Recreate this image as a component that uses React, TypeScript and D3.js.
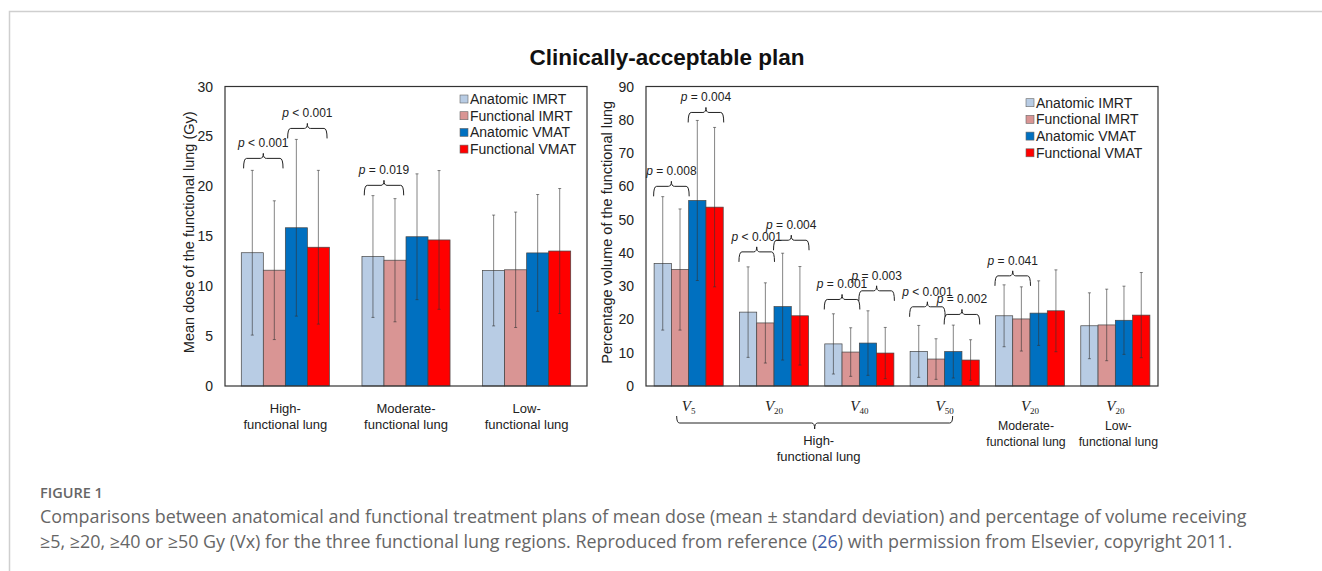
import React from 'react';
import * as d3 from 'd3';

// series + colours
const series = ['Anatomic IMRT', 'Functional IMRT', 'Anatomic VMAT', 'Functional VMAT'];
const seriesColors = ['#b8cce4', '#d99594', '#0070c0', '#ff0000'];

// left panel: mean dose (Gy)
const doseGroupLabels = [['High-', 'functional lung'], ['Moderate-', 'functional lung'], ['Low-', 'functional lung']];
const doseMeans = [
  [13.35, 11.6, 15.85, 13.9],
  [12.97, 12.6, 14.95, 14.63],
  [11.57, 11.64, 13.33, 13.52],
];
const doseSD = [
  [8.25, 6.95, 8.85, 7.7],
  [6.1, 6.17, 6.3, 6.95],
  [5.55, 5.78, 5.85, 6.26],
];
const doseTicks = [0, 5, 10, 15, 20, 25, 30];
const doseBrackets = [
  { group: 0, from: 0, to: 1, y: 22.8, label: '< 0.001' },
  { group: 0, from: 2, to: 3, y: 25.8, label: '< 0.001' },
  { group: 1, from: 0, to: 1, y: 20.1, label: '= 0.019' },
];

// right panel: percentage volume
const volumeSubs = ['5', '20', '40', '50', '20', '20'];
const volumeRegionLabels = [['Moderate-', 'functional lung'], ['Low-', 'functional lung']];
const volumeMeans = [
  [36.85, 35.0, 55.75, 53.75],
  [22.2, 18.95, 23.85, 21.1],
  [12.65, 10.2, 12.9, 9.9],
  [10.4, 8.1, 10.35, 7.8],
  [21.1, 20.15, 21.9, 22.6],
  [18.1, 18.35, 19.75, 21.3],
];
const volumeSD = [
  [20.05, 18.2, 24.05, 23.95],
  [13.6, 12.05, 16.05, 14.8],
  [9.05, 7.3, 9.7, 7.7],
  [7.8, 6.1, 7.95, 6.1],
  [9.3, 9.65, 9.7, 12.3],
  [9.9, 10.75, 10.25, 12.8],
];
const volumeTicks = [0, 10, 20, 30, 40, 50, 60, 70, 80, 90];
const volumeBrackets = [
  { group: 0, from: 0, to: 1, y: 60.0, label: '= 0.008' },
  { group: 0, from: 2, to: 3, y: 82.2, label: '= 0.004' },
  { group: 1, from: 0, to: 1, y: 40.3, label: '< 0.001' },
  { group: 1, from: 2, to: 3, y: 43.8, label: '= 0.004' },
  { group: 2, from: 0, to: 1, y: 26.0, label: '= 0.001' },
  { group: 2, from: 2, to: 3, y: 28.6, label: '= 0.003' },
  { group: 3, from: 0, to: 1, y: 23.8, label: '< 0.001' },
  { group: 3, from: 2, to: 3, y: 21.5, label: '= 0.002' },
  { group: 4, from: 0, to: 1, y: 33.1, label: '= 0.041' },
];

const SANS = '"Liberation Sans", Arial, sans-serif';
const SERIF = '"Liberation Serif", "Times New Roman", serif';
const CAPTION = '"Open Sans", "Noto Sans", sans-serif';

type Bracket = { group: number; from: number; to: number; y: number; label: string };

function bracePath(x1: number, x2: number, y: number, drop: number, tick: number) {
  const xm = (x1 + x2) / 2;
  const r = 3;
  const s = Math.sign(drop);
  return `M${x1},${y + drop} Q${x1},${y} ${x1 + r},${y} L${xm - r},${y} Q${xm},${y} ${xm},${y - tick * s}` +
    ` Q${xm},${y} ${xm + r},${y} L${x2 - r},${y} Q${x2},${y} ${x2},${y + drop}`;
}

function Panel(props: {
  left: number; right: number; top: number; bottom: number;
  yMax: number; ticks: number[]; means: number[][]; sds: number[][];
  padding: number; brackets: Bracket[]; inset: number;
  yLabel: string; yLabelX: number; legendX: number; legendY: number;
  children?: (x: d3.ScaleBand<number>) => React.ReactNode;
}) {
  const { left, right, top, bottom, yMax, ticks, means, sds, padding, brackets, inset } = props;
  const x = d3.scaleBand<number>().domain(d3.range(means.length)).range([left, right])
    .paddingInner(padding).paddingOuter(padding / 2);
  const xi = d3.scaleBand<number>().domain(d3.range(series.length)).range([0, x.bandwidth()]);
  const y = d3.scaleLinear().domain([0, yMax]).range([bottom, top]);
  const bw = xi.bandwidth();
  const midY = (top + bottom) / 2;

  return (
    <g>
      {ticks.map(t => (
        <text key={t} x={left - 12} y={y(t) + 5} textAnchor="end" fontSize={14} fontFamily={SANS} fill="#222">{t}</text>
      ))}
      <text transform={`translate(${props.yLabelX},${midY - 4}) rotate(-90)`} textAnchor="middle"
        fontSize={14.5} fontFamily={SANS} fill="#222">{props.yLabel}</text>

      {means.map((row, g) => row.map((v, s) => (
        <rect key={`b${g}-${s}`} x={x(g)! + xi(s)!} y={y(v)} width={bw} height={y(0) - y(v)}
          fill={seriesColors[s]} stroke="#444" strokeWidth={0.7} />
      )))}
      {means.map((row, g) => row.map((v, s) => {
        const cx = x(g)! + xi(s)! + bw / 2;
        const hi = y(v + sds[g][s]);
        const lo = y(Math.max(0, v - sds[g][s]));
        return (
          <g key={`e${g}-${s}`} stroke="#333" strokeOpacity={0.6} strokeWidth={1}>
            <line x1={cx} x2={cx} y1={hi} y2={lo} />
            <line x1={cx - 1.5} x2={cx + 1.5} y1={hi} y2={hi} />
            <line x1={cx - 1.5} x2={cx + 1.5} y1={lo} y2={lo} />
          </g>
        );
      }))}

      <rect x={left} y={top} width={right - left} height={bottom - top} fill="none" stroke="#333" strokeWidth={1.2} />

      {brackets.map((b, i) => {
        const x1 = x(b.group)! + xi(b.from)! + inset;
        const x2 = x(b.group)! + xi(b.to)! + bw - inset;
        const yt = y(b.y);
        return (
          <g key={`br${i}`}>
            <path d={bracePath(x1, x2, yt, 10, 5)} fill="none" stroke="#222" strokeWidth={1} />
            <text x={(x1 + x2) / 2} y={yt - 11} textAnchor="middle" fontSize={12} fontFamily={SANS} fill="#222">
              <tspan fontStyle="italic">p</tspan>{' ' + b.label}
            </text>
          </g>
        );
      })}

      {series.map((name, s) => (
        <g key={name} transform={`translate(${props.legendX},${props.legendY + s * 16.7})`}>
          <rect x={0} y={-4} width={8} height={8} fill={seriesColors[s]} stroke="#666" strokeWidth={0.6} />
          <text x={10} y={5} fontSize={14} fontFamily={SANS} fill="#222">{name}</text>
        </g>
      ))}

      {props.children && props.children(x)}
    </g>
  );
}

export default function App() {
  return (
    <svg width={1322} height={571} style={{ position: 'absolute', left: 0, top: 0, background: '#fff' }}>
      <path d="M1322,11.5 H9.5 V571" fill="none" stroke="#cfcfcf" strokeWidth={1.5} />
      <text x={667} y={65} textAnchor="middle" fontSize={22.5} fontWeight="bold" fontFamily={SANS} fill="#111">
        Clinically-acceptable plan
      </text>

      <Panel left={225} right={587} top={86.5} bottom={386} yMax={30} ticks={doseTicks}
        means={doseMeans} sds={doseSD} padding={0.27} brackets={doseBrackets} inset={2.3}
        yLabel="Mean dose of the functional lung (Gy)" yLabelX={194} legendX={460} legendY={99}>
        {x => doseGroupLabels.map((lines, g) => (
          <text key={g} x={x(g)! + x.bandwidth() / 2} y={413} textAnchor="middle" fontSize={13} fontFamily={SANS} fill="#222">
            {lines.map((l, i) => <tspan key={i} x={x(g)! + x.bandwidth() / 2} dy={i ? 16 : 0}>{l}</tspan>)}
          </text>
        ))}
      </Panel>

      <Panel left={646} right={1158} top={86.5} bottom={386} yMax={90} ticks={volumeTicks}
        means={volumeMeans} sds={volumeSD} padding={0.19} brackets={volumeBrackets} inset={-0.5}
        yLabel="Percentage volume of the functional lung" yLabelX={612} legendX={1026} legendY={102.7}>
        {x => {
          const c = (g: number) => x(g)! + x.bandwidth() / 2;
          return (
            <g>
              {volumeSubs.map((s, g) => (
                <text key={g} x={c(g)} y={411} textAnchor="middle" fontFamily={SERIF} fill="#222">
                  <tspan fontStyle="italic" fontSize={15}>V</tspan>
                  <tspan fontSize={9} dy={3}>{s}</tspan>
                </text>
              ))}
              <path d={bracePath(c(0) - 12, c(3) + 8, 423, -7, 6)} fill="none" stroke="#222" strokeWidth={1} />
              <text x={(c(0) + c(3)) / 2} y={445} textAnchor="middle" fontSize={13} fontFamily={SANS} fill="#222">
                <tspan x={(c(0) + c(3)) / 2 + 2}>High-</tspan>
                <tspan x={(c(0) + c(3)) / 2 + 2} dy={16}>functional lung</tspan>
              </text>
              {volumeRegionLabels.map((lines, i) => (
                <text key={i} y={430} textAnchor="middle" fontSize={12.3} fontFamily={SANS} fill="#222">
                  {lines.map((l, j) => <tspan key={j} x={c(4 + i) + (i ? 3 : -4)} dy={j ? 16 : 0}>{l}</tspan>)}
                </text>
              ))}
            </g>
          );
        }}
      </Panel>

      <text x={40} y={498} fontSize={14.5} fontWeight={600} fontFamily={CAPTION} fill="#666">FIGURE 1</text>
      <text x={40} y={523} fontSize={17.9} fontFamily={CAPTION} fill="#666">
        Comparisons between anatomical and functional treatment plans of mean dose (mean ± standard deviation) and percentage of volume receiving
      </text>
      <text x={40} y={548} fontSize={17.9} fontFamily={CAPTION} fill="#666">
        ≥5, ≥20, ≥40 or ≥50 Gy (Vx) for the three functional lung regions. Reproduced from reference (<tspan fill="#3d5ba9">26</tspan>) with permission from Elsevier, copyright 2011.
      </text>
    </svg>
  );
}
